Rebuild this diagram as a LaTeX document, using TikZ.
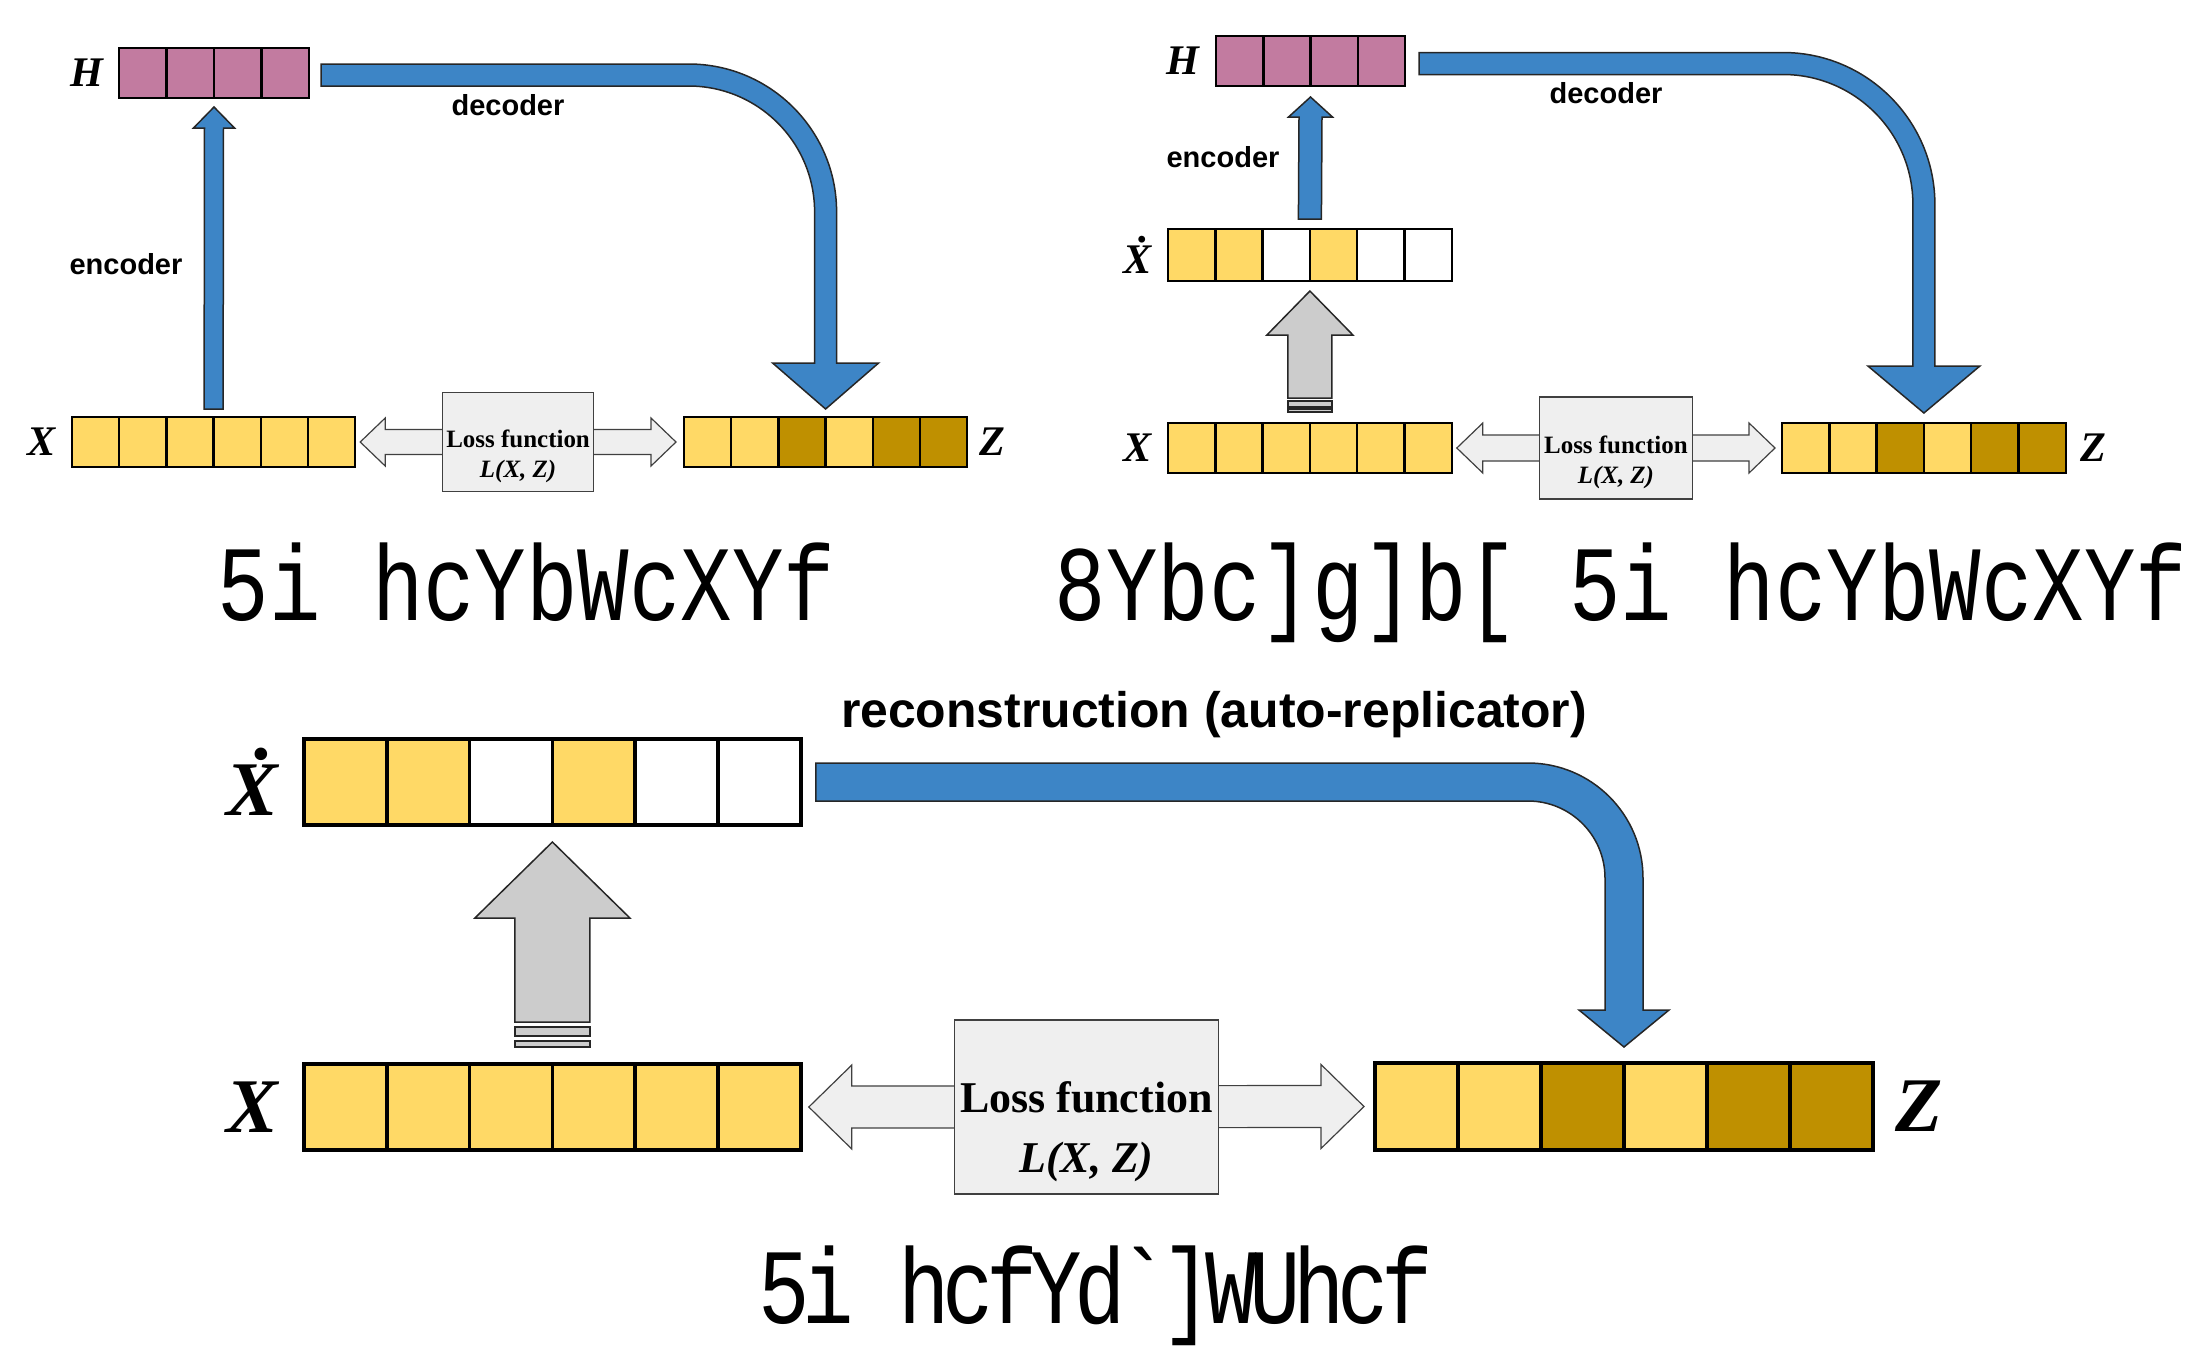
\documentclass[tikz,border=0pt]{standalone}
\usepackage{fontspec}
\setmainfont{Liberation Serif}
\setsansfont{Liberation Sans}
\setmonofont[FakeStretch=0.8]{Liberation Mono}
\usetikzlibrary{positioning,calc}
\definecolor{aepink}{HTML}{C27BA0}
\definecolor{aeyellow}{HTML}{FFD966}
\definecolor{aegold}{HTML}{BF9000}
\definecolor{aeblue}{HTML}{3D85C6}
\definecolor{aegrey}{HTML}{CCCCCC}
\definecolor{aelight}{HTML}{EFEFEF}

% row of cells: style, name, north west corner, cell width, cell height, fills
\newcommand{\cellrow}[6]{%
  \foreach \fillc [count=\i] in {#6}{%
    \ifnum\i=1
      \node[#1, fill=\fillc, minimum width=#4, minimum height=#5, anchor=north west] (#2-1) at (#3) {};
    \else
      \pgfmathtruncatemacro\prev{\i-1}
      \node[#1, fill=\fillc, minimum width=#4, minimum height=#5, anchor=west] (#2-\i) at (#2-\prev.east) {};
    \fi}}
% bent block arrow: start, tip, half thickness, bend radius, head half width, head length
\newcommand{\bentarrow}[6]{%
  \draw[bluearrow] ($(#1)+(0,#3)$) -- ($(#2|-#1)+(-#4,#3)$)
    arc[start angle=90, end angle=0, radius=#4+#3] -- ($(#2)+(#3,#6)$)
    -- ($(#2)+(#5,#6)$) -- (#2) -- ($(#2)+(-#5,#6)$) -- ($(#2)+(-#3,#6)$)
    -- ($(#2|-#1)+(-#3,-#4)$) arc[start angle=0, end angle=90, radius=#4-#3]
    -- ($(#1)+(0,-#3)$) -- cycle;}
% straight block arrow upwards: style, bottom, tip, half shaft, half head, head length
\newcommand{\blockup}[6]{%
  \draw[#1] ($(#2)+(-#4,0)$) -- ($(#3)+(-#4,-#6)$) -- ($(#3)+(-#5,-#6)$) -- (#3)
    -- ($(#3)+(#5,-#6)$) -- ($(#3)+(#4,-#6)$) -- ($(#2)+(#4,0)$) -- cycle;}
% two-headed loss arrow: left tip, right tip, head length, head half, shaft half
\newcommand{\lossarrow}[5]{%
  \draw[lossline] (#1) -- ($(#1)+(#3,#4)$) -- ($(#1)+(#3,#5)$) -- ($(#2)+(-#3,#5)$)
    -- ($(#2)+(-#3,#4)$) -- (#2) -- ($(#2)+(-#3,-#4)$) -- ($(#2)+(-#3,-#5)$)
    -- ($(#1)+(#3,-#5)$) -- ($(#1)+(#3,-#4)$) -- cycle;}
\newcommand{\xdot}{\makebox[0pt][l]{\hspace{0.36em}\raisebox{0.72em}{.}}X}

\begin{document}
\begin{tikzpicture}[x=0.1mm, y=0.1mm,
  cell/.style={draw=black, line width=0.25mm, outer sep=0pt, inner sep=0pt},
  bigcell/.style={cell, line width=0.35mm},
  bluearrow/.style={draw=black!85, fill=aeblue, line width=0.15mm},
  greyarrow/.style={draw=black!85, fill=aegrey, line width=0.15mm},
  lossline/.style={draw=black!75, fill=aelight, line width=0.12mm},
  lossbox/.style={draw=black!75, fill=aelight, line width=0.12mm, inner sep=0pt,
                  align=center, font=\bfseries\fontsize{7.1}{8.5}\selectfont},
  bigloss/.style={lossbox, line width=0.18mm, font=\bfseries\fontsize{12.5}{17}\selectfont},
  ann/.style={font=\sffamily\bfseries\fontsize{8.25}{10}\selectfont},
  bigann/.style={font=\sffamily\bfseries\fontsize{14.2}{17}\selectfont},
  vec/.style={font=\bfseries\itshape\fontsize{12}{14}\selectfont, inner sep=0pt},
  bigvec/.style={font=\bfseries\itshape\fontsize{22}{26}\selectfont, inner sep=0pt},
  title/.style={font=\ttfamily\fontsize{30.5}{36}\selectfont, anchor=base, inner sep=0pt},
]
\useasboundingbox (0,0) rectangle (2186,-1349);

%% Autoencoder (top left)
\cellrow{cell}{h1}{119,-48}{4.75mm}{5mm}{aepink,aepink,aepink,aepink}
\cellrow{cell}{x1}{72,-417}{4.72mm}{5mm}{aeyellow,aeyellow,aeyellow,aeyellow,aeyellow,aeyellow}
\cellrow{cell}{z1}{684,-417}{4.72mm}{5mm}{aeyellow,aeyellow,aegold,aeyellow,aegold,aegold}
\node[vec, left=1.5mm of h1-1] (lh1) {H};
\node[vec, left=1.6mm of x1-1] (lx1) {X};
\node[vec, right=1.2mm of z1-6] (lz1) {Z};

\coordinate (e1b) at ($(x1-3.north east)+(0,8)$);
\coordinate (e1t) at ($(h1-2.south east)+(0,-9)$);
\blockup{bluearrow}{e1b}{e1t}{9.5}{20.5}{21}
\coordinate (d1s) at ($(h1-4.east)+(12,-2)$);
\coordinate (d1t) at ($(z1-3.north east)+(0,8)$);
\bentarrow{d1s}{d1t}{11}{137}{53}{46}
\node[ann] (enc1) at (126,-264) {encoder};
\node[ann] (dec1) at (508,-105) {decoder};

\coordinate (l1) at ($(x1-6.east)+(5,0)$);
\coordinate (r1) at ($(z1-1.west)+(-8,0)$);
\lossarrow{l1}{r1}{25}{24}{12.5}
\node[lossbox, minimum width=15.1mm, minimum height=9.9mm] (loss1) at ($(l1)!0.5!(r1)$)
  {\rule{0pt}{13pt}Loss function\\\textit{L(X, Z)}};
\node[title] (t1) at (526.5,-620) {5i hcYbWcXYf};

%% Denoising autoencoder (top right)
\cellrow{cell}{h2}{1216,-36}{4.725mm}{5mm}{aepink,aepink,aepink,aepink}
\cellrow{cell}{xd2}{1168,-229}{4.73mm}{5.2mm}{aeyellow,aeyellow,white,aeyellow,white,white}
\cellrow{cell}{x2}{1168,-423}{4.73mm}{5mm}{aeyellow,aeyellow,aeyellow,aeyellow,aeyellow,aeyellow}
\cellrow{cell}{z2}{1782,-423}{4.73mm}{5mm}{aeyellow,aeyellow,aegold,aeyellow,aegold,aegold}
\node[vec, left=1.6mm of h2-1] (lh2) {H};
\node[vec, left=1.6mm of xd2-1] (lxd2) {\xdot};
\node[vec, left=1.6mm of x2-1] (lx2) {X};
\node[vec, right=1.4mm of z2-6] (lz2) {Z};

\coordinate (e2b) at ($(xd2-3.north east)+(0,10)$);
\coordinate (e2t) at ($(h2-2.south east)+(0,-11)$);
\blockup{bluearrow}{e2b}{e2t}{11.5}{22}{20}
\coordinate (g2b) at ($(x2-3.north east)+(0,25)$);
\coordinate (g2t) at ($(xd2-3.south east)+(0,-10)$);
\blockup{greyarrow}{g2b}{g2t}{22}{43}{44}
\draw[greyarrow] ($(g2b)+(-22,-3)$) rectangle ($(g2b)+(22,-9)$);
\draw[greyarrow] ($(g2b)+(-22,-11)$) rectangle ($(g2b)+(22,-14)$);
\coordinate (d2s) at ($(h2-4.east)+(14,-2.5)$);
\coordinate (d2t) at ($(z2-3.north east)+(0,10)$);
\bentarrow{d2s}{d2t}{11}{141}{56}{47}
\node[ann] (enc2) at (1223,-157) {encoder};
\node[ann] (dec2) at (1606,-93) {decoder};

\coordinate (l2) at ($(x2-6.east)+(5,0)$);
\coordinate (r2) at ($(z2-1.west)+(-7,0)$);
\lossarrow{l2}{r2}{26}{25}{13}
\node[lossbox, minimum width=15.3mm, minimum height=10.2mm] (loss2) at ($(l2)!0.5!(r2)$)
  {\rule{0pt}{13pt}Loss function\\\textit{L(X, Z)}};
\node[title] (t2) at (1621,-620) {8Ybc]g]b[ 5i hcYbWcXYf};

%% Auto-replicator (bottom)
\cellrow{bigcell}{xd3}{304,-739}{8.28mm}{8.6mm}{aeyellow,aeyellow,white,aeyellow,white,white}
\cellrow{bigcell}{x3}{304,-1064}{8.28mm}{8.6mm}{aeyellow,aeyellow,aeyellow,aeyellow,aeyellow,aeyellow}
\cellrow{bigcell}{z3}{1375,-1063}{8.3mm}{8.7mm}{aeyellow,aeyellow,aegold,aeyellow,aegold,aegold}
\node[bigvec, left=2.5mm of xd3-1] (lxd3) {\xdot};
\node[bigvec, left=2.5mm of x3-1] (lx3) {X};
\node[bigvec, right=2.2mm of z3-6] (lz3) {Z};

\coordinate (g3b) at ($(x3-3.north east)+(0,42)$);
\coordinate (g3t) at ($(xd3-3.south east)+(0,-17)$);
\blockup{greyarrow}{g3b}{g3t}{37.5}{77.5}{76}
\draw[greyarrow] ($(g3b)+(-37.5,-5)$) rectangle ($(g3b)+(37.5,-14)$);
\draw[greyarrow] ($(g3b)+(-37.5,-19)$) rectangle ($(g3b)+(37.5,-25)$);
\coordinate (d3s) at ($(xd3-6.east)+(15,0)$);
\coordinate (d3t) at ($(z3-3.north east)+(0,16)$);
\bentarrow{d3s}{d3t}{19}{96}{45}{37}
\node[bigann] (rec3) at (1214,-715) {reconstruction (auto-replicator)};

\coordinate (l3) at ($(x3-6.east)+(8,0)$);
\coordinate (r3) at ($(z3-1.west)+(-11,0)$);
\lossarrow{l3}{r3}{43}{42}{21}
\node[bigloss, minimum width=26.4mm, minimum height=17.4mm] (loss3) at ($(l3)!0.5!(r3)$)
  {\rule{0pt}{23pt}Loss function\\\textit{L(X, Z)}};
\node[title, font=\ttfamily\addfontfeatures{LetterSpace=-7}\fontsize{30.5}{36}\selectfont]
  (t3) at (1096,-1323) {5i hcfYd`]WUhcf};
\end{tikzpicture}
\end{document}
